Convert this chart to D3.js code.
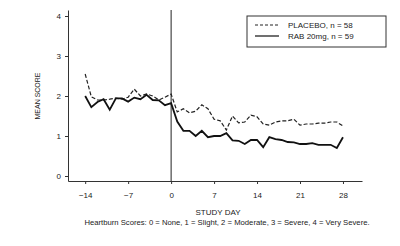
<!DOCTYPE html>
<html>
<head>
<meta charset="utf-8">
<script src="https://cdn.jsdelivr.net/npm/d3@7"></script>
<style>
  body { margin: 0; background: #fff; }
  svg text { font-family: "Liberation Sans", Arial, sans-serif; fill: #222; }
  .axis path, .axis line { stroke: #333; }
</style>
</head>
<body>
<svg id="chart"></svg>
<script>
var screen = {width: 400, height: 246};

var days = d3.range(-14, 29);
var placebo = [2.55, 1.98, 1.9, 1.9, 1.92, 1.95, 1.92, 1.97, 2.17, 2.0, 2.05, 2.0, 1.9, 1.97,
               2.05, 1.6, 1.68, 1.58, 1.62, 1.78, 1.68, 1.42, 1.38, 1.15, 1.5, 1.33, 1.35,
               1.52, 1.48, 1.3, 1.27, 1.35, 1.38, 1.38, 1.42, 1.27, 1.3, 1.3, 1.32, 1.32, 1.35, 1.35, 1.25];
var rab = [2.0, 1.72, 1.85, 1.92, 1.66, 1.94, 1.94, 1.86, 1.96, 1.92, 2.03, 1.9, 1.89, 1.77,
           1.82, 1.36, 1.13, 1.13, 1.0, 1.13, 0.97, 1.0, 1.0, 1.07, 0.89, 0.88, 0.8,
           0.9, 0.9, 0.72, 0.97, 0.92, 0.9, 0.85, 0.84, 0.8, 0.8, 0.82, 0.78, 0.78, 0.78, 0.7, 0.97];
var xTicks = [-14, -7, 0, 7, 14, 21, 28];
var yTicks = [0, 1, 2, 3, 4];
var legendLabels = ["PLACEBO, n = 58", "RAB 20mg, n = 59"];

var svg = d3.select("#chart")
    .attr("width", screen.width)
    .attr("height", screen.height);

var xScale = d3.scaleLinear()
    .domain([-16.8, 31.1])
    .range([68, 362]);

var yScale = d3.scaleLinear()
    .domain([-0.125, 4.15])
    .range([181, 10]);

// axes
svg.append("g")
    .attr("class", "axis")
    .attr("transform", "translate(0,181)")
    .call(d3.axisBottom(xScale).tickValues(xTicks).tickFormat(d3.format("d"))
        .tickSize(3).tickSizeOuter(0).tickPadding(8))
    .call(function(g) { g.selectAll("text").style("font-size", "8px"); });

svg.append("g")
    .attr("class", "axis")
    .attr("transform", "translate(68,0)")
    .call(d3.axisLeft(yScale).tickValues(yTicks).tickFormat(d3.format("d"))
        .tickSize(3).tickSizeOuter(0).tickPadding(4))
    .call(function(g) { g.selectAll("text").style("font-size", "8px"); });

// day 0 line
svg.append("line")
    .attr("x1", xScale(0)).attr("x2", xScale(0))
    .attr("y1", yScale.range()[1]).attr("y2", yScale.range()[0])
    .attr("stroke", "#222")
    .attr("stroke-width", 1);

var line = function(values) {
    return d3.line()
        .x(function(d, i) { return xScale(days[i]); })
        .y(function(d) { return yScale(d); })(values);
};

svg.append("path")
    .attr("d", line(placebo))
    .attr("fill", "none")
    .attr("stroke", "#222")
    .attr("stroke-width", 1.2)
    .attr("stroke-dasharray", "4,2");

svg.append("path")
    .attr("d", line(rab))
    .attr("fill", "none")
    .attr("stroke", "#111")
    .attr("stroke-width", 1.8);

// axis titles
svg.append("text")
    .attr("transform", "translate(40,96) rotate(-90)")
    .attr("text-anchor", "middle")
    .style("font-size", "7px")
    .text("MEAN SCORE");

svg.append("text")
    .attr("x", 218).attr("y", 215)
    .attr("text-anchor", "middle")
    .style("font-size", "8px")
    .text("STUDY DAY");

svg.append("text")
    .attr("x", 227).attr("y", 224.5)
    .attr("text-anchor", "middle")
    .style("font-size", "7.7px")
    .text("Heartburn Scores: 0 = None, 1 = Slight, 2 = Moderate, 3 = Severe, 4 = Very Severe.");

// legend
var legend = svg.append("g");
legend.append("rect")
    .attr("x", 247).attr("y", 16)
    .attr("width", 139).attr("height", 31)
    .attr("fill", "#fff")
    .attr("stroke", "#333")
    .attr("stroke-width", 1);

legendLabels.forEach(function(label, i) {
    var ly = 25 + i * 11;
    legend.append("line")
        .attr("x1", 255).attr("x2", 279)
        .attr("y1", ly).attr("y2", ly)
        .attr("stroke", "#222")
        .attr("stroke-width", i == 0 ? 1 : 1.3)
        .attr("stroke-dasharray", i == 0 ? "3,2" : null);
    legend.append("text")
        .attr("x", 288).attr("y", ly)
        .attr("dy", "0.35em")
        .style("font-size", "8px")
        .text(label);
});
</script>
</body>
</html>
